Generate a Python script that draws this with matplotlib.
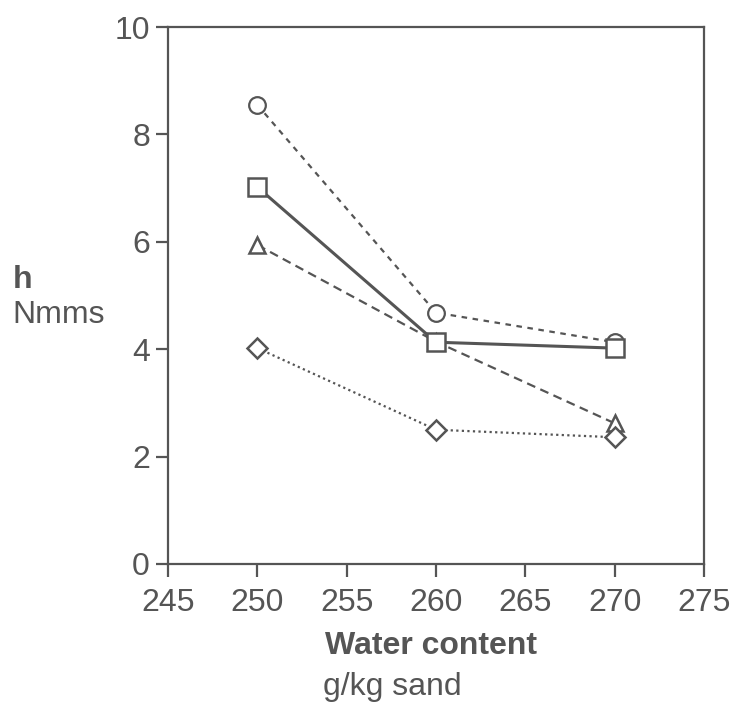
import numpy as np
import matplotlib.pyplot as plt

plt.rcParams['font.family'] = ['Liberation Sans', 'DejaVu Sans']

# DATI
acqua = [250, 260, 270]
cerchi = [8.55, 4.68, 4.13]
quadrati = [7.02, 4.13, 4.02]
triangoli = [5.94, 4.14, 2.62]
rombi = [4.02, 2.50, 2.36]

grigio = '#555555'

fig = plt.figure(figsize=(7.35, 7.11), dpi=100)
ax = fig.add_axes([0.2286, 0.2068, 0.7292, 0.7552])

ax.plot(acqua, cerchi, linestyle=(0, (2.5, 2.5)), color=grigio, linewidth=1.6,
        marker='o', markersize=12, markerfacecolor='white', markeredgecolor=grigio, markeredgewidth=1.6)
ax.plot(acqua, triangoli, linestyle=(0, (4, 2.5)), color=grigio, linewidth=1.6,
        marker='^', markersize=12, markerfacecolor='white', markeredgecolor=grigio, markeredgewidth=1.8)
ax.plot(acqua, rombi, linestyle=(0, (1, 1.5)), color=grigio, linewidth=1.6,
        marker='D', markersize=10, markerfacecolor='white', markeredgecolor=grigio, markeredgewidth=1.8)
ax.plot(acqua, quadrati, linestyle='-', color=grigio, linewidth=2.2,
        marker='s', markersize=13, markerfacecolor='white', markeredgecolor=grigio, markeredgewidth=1.8)

ax.set_xlim(245, 275)
ax.set_ylim(0, 10)
ax.set_xticks(np.arange(245, 276, 5))
ax.set_yticks(np.arange(0, 11, 2))
ax.tick_params(direction='out', length=9, width=1.6, colors=grigio, labelsize=23, labelcolor=grigio)
ax.tick_params(axis='x', pad=8)
ax.tick_params(axis='y', pad=4)
for s in ax.spines.values():
    s.set_color(grigio)
    s.set_linewidth(1.6)

fig.text(0.442, 0.0802, 'Water content', fontsize=23, fontweight='bold', color=grigio, ha='left', va='baseline')
fig.text(0.4395, 0.0225, 'g/kg sand', fontsize=23, color=grigio, ha='left', va='baseline')
fig.text(0.017, 0.595, 'h', fontsize=23, fontweight='bold', color=grigio, ha='left', va='baseline')
fig.text(0.017, 0.5457, 'Nmms', fontsize=23, color=grigio, ha='left', va='baseline')

plt.savefig('out.png', dpi=100)
